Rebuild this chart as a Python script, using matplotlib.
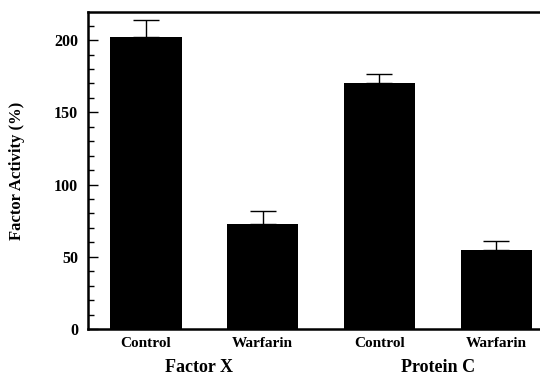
import matplotlib
matplotlib.use('Agg')
import matplotlib.pyplot as plt
from matplotlib.ticker import MultipleLocator

plt.rcParams['font.family'] = ['Liberation Serif', 'DejaVu Serif']
plt.rcParams['font.weight'] = 'bold'

categories = ['Control', 'Warfarin', 'Control', 'Warfarin']
groups = ['Factor X', 'Protein C']
activity = [202, 72.5, 170.5, 55]
errors = [12, 9, 6, 6]

fig = plt.figure(figsize=(5.4, 3.77), dpi=100)
ax = fig.add_axes([88 / 540, 1 - 329 / 377, 1 - 88 / 540, (329 - 12) / 377])

x = list(range(len(categories)))
ax.bar(x, activity, width=0.61, color='black', zorder=2)
ax.errorbar(x, activity, yerr=[[0] * len(errors), errors], fmt='none',
            ecolor='black', elinewidth=1.0, capsize=9.4, capthick=1.0, zorder=1)

ax.set_xlim(-0.497, 3.376)
ax.set_ylim(0, 219.5)
ax.yaxis.set_major_locator(MultipleLocator(50))
ax.yaxis.set_minor_locator(MultipleLocator(10))
ax.tick_params(axis='y', which='major', direction='in', length=7, width=1, labelsize=11.5, pad=7)
ax.tick_params(axis='y', which='minor', direction='in', length=4, width=1)
ax.tick_params(axis='x', length=0, labelsize=11, pad=6)
ax.set_xticks(x)
ax.set_xticklabels(categories, fontweight='bold')
for lab in ax.get_yticklabels():
    lab.set_fontweight('bold')

ax.spines['right'].set_visible(False)
for s in ['left', 'top', 'bottom']:
    ax.spines[s].set_linewidth(1.8)

ax.set_ylabel('Factor Activity (%)', fontsize=12, fontweight='bold', labelpad=21)

# group names under the category labels (baseline ~ 372 px from top)
for gx, g in zip([0.45, 2.5], groups):
    ax.text(gx, -(372 - 329) / 317, g, transform=ax.get_xaxis_transform(),
            ha='center', va='baseline', fontsize=13, fontweight='bold')

fig.savefig('out.png', dpi=100)
